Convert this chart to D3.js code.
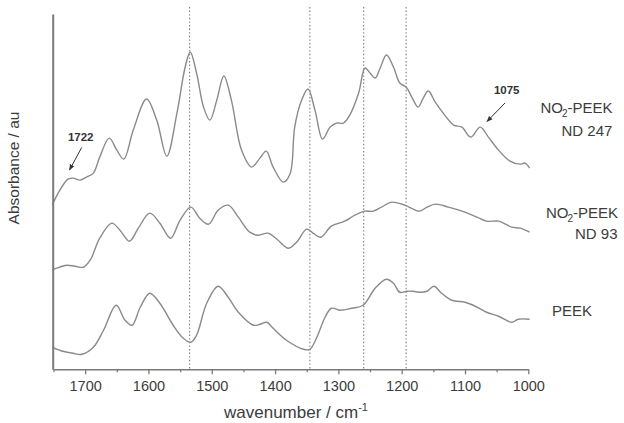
<!DOCTYPE html>
<html>
<head>
<meta charset="utf-8">
<script src="https://cdn.jsdelivr.net/npm/d3@7"></script>
<style>
  html, body { margin: 0; padding: 0; background: #fff; }
  svg { display: block; font-family: "Liberation Sans", Arial, sans-serif; }
</style>
</head>
<body>
<svg id="chart" width="624" height="423"></svg>
<script>
// FTIR spectra, wavenumber (cm^-1) against stacked absorbance (au)
const wnND247 = [1752,1740,1727,1719,1708,1698,1687,1677,1662,1650,1639,1624,1603,1587,1571,1555,1542,1534,1524,1513,1503,1492,1481,1469,1453,1437,1424,1414,1403,1387,1376,1369,1358,1348,1337,1325,1313,1303,1292,1282,1268,1258,1250,1242,1234,1224,1213,1203,1193,1184,1174,1166,1158,1147,1132,1118,1105,1091,1076,1063,1047,1029,1013,1005,998];
const absND247 = [1.64,1.79,1.90,1.91,1.89,1.92,1.96,2.12,2.31,2.19,2.10,2.39,2.70,2.49,2.13,2.56,3.02,3.17,2.96,2.62,2.49,2.69,2.93,2.69,2.19,2.02,2.11,2.18,2.02,1.87,1.96,2.42,2.69,2.80,2.59,2.30,2.42,2.46,2.46,2.54,2.76,3.01,2.96,2.91,3.01,3.14,3.02,2.86,2.82,2.72,2.62,2.71,2.78,2.67,2.54,2.44,2.42,2.32,2.42,2.32,2.19,2.08,2.05,2.06,2.01];

const wnND93 = [1752,1745,1729,1716,1703,1692,1677,1658,1645,1630,1616,1598,1582,1565,1550,1533,1519,1505,1490,1474,1458,1440,1427,1411,1397,1379,1366,1350,1340,1328,1311,1290,1274,1258,1245,1232,1216,1195,1182,1172,1160,1147,1126,1100,1081,1066,1047,1026,1013,998];
const absND93 = [0.99,1.01,1.04,1.03,1.02,1.09,1.31,1.46,1.39,1.28,1.41,1.56,1.46,1.31,1.49,1.62,1.51,1.45,1.59,1.64,1.52,1.37,1.34,1.36,1.30,1.21,1.27,1.40,1.36,1.32,1.43,1.48,1.54,1.58,1.58,1.62,1.67,1.64,1.60,1.58,1.62,1.65,1.62,1.57,1.52,1.48,1.48,1.42,1.41,1.37];

const wnPEEK = [1752,1735,1719,1705,1687,1671,1651,1637,1626,1613,1598,1582,1561,1545,1533,1524,1508,1490,1474,1458,1434,1424,1413,1403,1382,1355,1345,1334,1321,1311,1297,1279,1261,1242,1224,1213,1203,1192,1182,1171,1160,1149,1137,1121,1100,1087,1066,1047,1026,1016,998];
const absPEEK = [0.22,0.18,0.16,0.15,0.22,0.39,0.64,0.49,0.44,0.62,0.76,0.66,0.44,0.31,0.27,0.34,0.66,0.83,0.72,0.57,0.44,0.45,0.47,0.41,0.29,0.20,0.20,0.32,0.52,0.61,0.59,0.61,0.64,0.81,0.90,0.86,0.77,0.78,0.78,0.77,0.78,0.83,0.76,0.69,0.67,0.64,0.57,0.53,0.47,0.50,0.50];

// Band positions marked with dotted guide lines
const markedBands = [1535, 1345, 1260, 1193];
const majorTicks = [1700, 1600, 1500, 1400, 1300, 1200, 1100, 1000];
const minorTicks = [1750, 1650, 1550, 1450, 1350, 1250, 1150, 1050];

const svg = d3.select("#chart");
const axisColor = "#7a7a7a";
const lineColor = "#8a8a8a";
const textColor = "#3c3c3c";

const x = d3.scaleLinear().domain([1750, 1000]).range([53.5, 528.3]);
const y = d3.scaleLinear().domain([0, 3.55]).range([369.3, 14]);

const line = d3.line()
  .x(d => x(d[0]))
  .y(d => y(d[1]))
  .curve(d3.curveCatmullRom.alpha(0.5));

// dotted guides
svg.append("g").selectAll("line").data(markedBands).join("line")
  .attr("x1", d => x(d)).attr("x2", d => x(d))
  .attr("y1", 7).attr("y2", y(0))
  .attr("stroke", "#777").attr("stroke-width", 1.1)
  .attr("stroke-dasharray", "1.4,2.2");

// spectra
const spectra = [
  d3.zip(wnND247, absND247),
  d3.zip(wnND93, absND93),
  d3.zip(wnPEEK, absPEEK)
];
svg.append("g").selectAll("path").data(spectra).join("path")
  .attr("d", line)
  .attr("fill", "none")
  .attr("stroke", lineColor)
  .attr("stroke-width", 1.4);

// bottom axis
const xAxis = d3.axisBottom(x)
  .tickValues(majorTicks)
  .tickFormat(d3.format("d"))
  .tickSize(5)
  .tickSizeOuter(0)
  .tickPadding(6);
const gx = svg.append("g").attr("transform", `translate(0,${y(0)})`).call(xAxis);
gx.select(".domain").attr("stroke", axisColor).attr("stroke-width", 1.6);
gx.selectAll(".tick line").attr("stroke", axisColor).attr("stroke-width", 1.3);
gx.selectAll(".tick text")
  .attr("fill", textColor)
  .attr("font-size", 14.5)
  .attr("font-family", "Liberation Sans, Arial, sans-serif");

const xMinor = d3.axisBottom(x).tickValues(minorTicks).tickSize(3).tickSizeOuter(0).tickFormat("");
const gm = svg.append("g").attr("transform", `translate(0,${y(0)})`).call(xMinor);
gm.select(".domain").remove();
gm.selectAll(".tick line").attr("stroke", axisColor).attr("stroke-width", 1.3);

// left axis (no ticks)
const yAxis = d3.axisLeft(y).tickValues([]).tickSizeOuter(0);
const gy = svg.append("g").attr("transform", `translate(${x(1750) - 0.8},0)`).call(yAxis);
gy.select(".domain").attr("stroke", axisColor).attr("stroke-width", 2);

// axis titles
const xTitle = svg.append("text")
  .attr("x", 296).attr("y", 418)
  .attr("text-anchor", "middle")
  .attr("font-size", 17).attr("fill", textColor);
xTitle.append("tspan").text("wavenumber / cm");
xTitle.append("tspan").attr("dy", -7).attr("font-size", 11).text("-1");

svg.append("text")
  .attr("transform", "translate(18.5,168) rotate(-90)")
  .attr("text-anchor", "middle")
  .attr("font-size", 15.5).attr("fill", textColor)
  .text("Absorbance / au");

// series labels
function no2Label(xp, yp) {
  const t = svg.append("text").attr("x", xp).attr("y", yp)
    .attr("font-size", 15).attr("fill", textColor);
  t.append("tspan").text("NO");
  t.append("tspan").attr("font-size", 10).attr("dy", 4).attr("dx", -1).text("2");
  t.append("tspan").attr("dy", -4).text("-PEEK");
}
no2Label(540.5, 112.5);
svg.append("text").attr("x", 561.5).attr("y", 135.5)
  .attr("font-size", 15).attr("fill", textColor).text("ND 247");
no2Label(546, 218);
svg.append("text").attr("x", 575).attr("y", 238.5)
  .attr("font-size", 15).attr("fill", textColor).text("ND 93");
svg.append("text").attr("x", 552).attr("y", 315.5)
  .attr("font-size", 15).attr("fill", textColor).text("PEEK");

// peak annotations with arrows
svg.append("defs").append("marker")
  .attr("id", "arrowhead")
  .attr("viewBox", "0 0 10 10").attr("refX", 9).attr("refY", 5)
  .attr("markerWidth", 6).attr("markerHeight", 6)
  .attr("orient", "auto")
  .append("path").attr("d", "M0,1 L10,5 L0,9 Z").attr("fill", "#333");

const notes = [
  { label: "1722", tx: 80.7, ty: 141, from: [81.7, 147.5], to: [69.5, 170] },
  { label: "1075", tx: 506.7, ty: 93.5, from: [505, 103], to: [487, 121.5] }
];
notes.forEach(n => {
  svg.append("text").attr("x", n.tx).attr("y", n.ty)
    .attr("text-anchor", "middle")
    .attr("font-size", 11.5).attr("font-weight", "bold").attr("fill", "#333")
    .text(n.label);
  svg.append("line")
    .attr("x1", n.from[0]).attr("y1", n.from[1])
    .attr("x2", n.to[0]).attr("y2", n.to[1])
    .attr("stroke", "#333").attr("stroke-width", 1)
    .attr("marker-end", "url(#arrowhead)");
});
</script>
</body>
</html>
